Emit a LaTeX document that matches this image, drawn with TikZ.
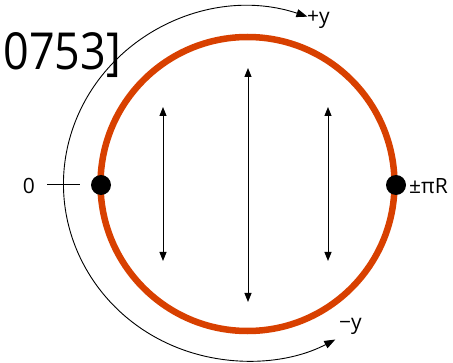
\documentclass[tikz,border=0pt]{standalone}
\usepackage{fontspec}
\setmainfont{Open Sans}
\usetikzlibrary{arrows.meta,calc}
\definecolor{ringred}{RGB}{216,64,0}
\tikzset{
  ring/.style={draw=ringred,line width=6.5pt},
  dot/.style={circle,fill=black,inner sep=0pt,minimum size=20pt},
  dbl/.style={{Triangle[length=9pt,width=7pt]}-{Triangle[length=9pt,width=7pt]},line width=1pt},
  lbl/.style={inner sep=0pt,font=\fontsize{21}{24}\selectfont},
}
\begin{document}
\begin{tikzpicture}[x=1pt,y=1pt]
\useasboundingbox (0,0) rectangle (453,362);
% red ring
\coordinate (c) at (247.5,178);
\draw[ring] (c) circle[radius=147];
% outer arc with arrows
\draw[{Triangle[length=11pt,width=8pt]}-{Triangle[length=11pt,width=8pt]},line width=0.9pt]
  ($(c)+(71:184 and 177)$) arc[start angle=71,end angle=298.5,x radius=184,y radius=177];
% dots
\node[dot] (d0) at (101,177) {};
\node[dot] (dpi) at (396,177) {};
% vertical arrows
\coordinate (a1t) at (163,255); \coordinate (a1b) at (163,101);
\coordinate (a2t) at (248,294); \coordinate (a2b) at (248,60);
\coordinate (a3t) at (328,255); \coordinate (a3b) at (328,101);
\draw[dbl] (a1t) -- (a1b);
\draw[dbl] (a2t) -- (a2b);
\draw[dbl] (a3t) -- (a3b);
% zero tick
\coordinate (t1) at (47,177); \coordinate (t2) at (80,177);
\draw[line width=1pt] (t1) -- (t2);
\node[lbl] (zero) at (29,176) {0};
\node[lbl,anchor=west] (pir) at (409,176) {±πR};
\node[lbl,anchor=west] (py) at (307,342) {+y};
\node[lbl,anchor=west] (my) at (339,36) {−y};
\node[inner sep=0pt,anchor=base east] (ref) at (121,292) {\scalebox{0.88}[1]{\fontsize{51}{56}\selectfont 0753]}};
\end{tikzpicture}
\end{document}
